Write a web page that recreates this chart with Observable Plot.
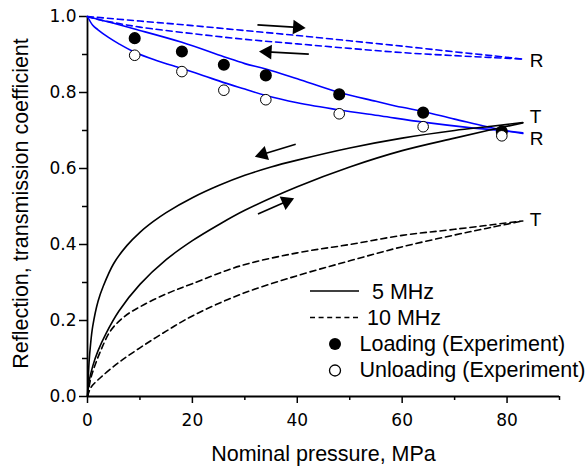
<!DOCTYPE html>
<html><head><meta charset="utf-8">
<script src="https://cdn.jsdelivr.net/npm/d3@7"></script>
<script src="https://cdn.jsdelivr.net/npm/@observablehq/plot@0.6"></script>
<style>
body{margin:0;background:#fff;}
#wrap{position:relative;width:588px;height:467px;}
</style></head><body><div id="wrap"></div>
<script>
// ---- Experimental points (5 MHz reflection) ----
const expPressure = [9, 18, 26, 34, 48, 64, 79];
const expLoading   = [0.943, 0.908, 0.873, 0.845, 0.795, 0.747, 0.697];
const expUnloading = [0.898, 0.855, 0.806, 0.781, 0.744, 0.710, 0.686];

// ---- Model curves ----
// Reflection, 10 MHz (dashed blue)
const r10Load_x   = [0, 10, 20, 30, 40, 50, 60, 70, 77, 83];
const r10Load_y   = [1.0, 0.988, 0.976, 0.963, 0.950, 0.936, 0.922, 0.907, 0.897, 0.888];
const r10Unload_x = [0, 2, 5, 10, 20, 30, 40, 50, 60, 70, 77, 83];
const r10Unload_y = [1.0, 0.992, 0.984, 0.972, 0.955, 0.940, 0.928, 0.916, 0.905, 0.897, 0.892, 0.888];
// Reflection, 5 MHz (solid blue)
const r5Load_x   = [0, 5, 9, 18, 26, 30, 34, 40, 48, 55, 60, 64, 70, 79, 83];
const r5Load_y   = [1.0, 0.982, 0.967, 0.932, 0.894, 0.876, 0.862, 0.836, 0.800, 0.777, 0.761, 0.750, 0.730, 0.701, 0.692];
const r5Unload_x = [0, 1, 2, 4, 6, 9, 13, 18, 22, 26, 30, 34, 40, 48, 56, 64, 72, 79, 83];
const r5Unload_y = [1.0, 0.977, 0.965, 0.945, 0.928, 0.906, 0.885, 0.863, 0.845, 0.826, 0.809, 0.792, 0.773, 0.754, 0.738, 0.722, 0.709, 0.700, 0.694];
// Transmission, 5 MHz (solid black)
const t5Unload_x = [0, 0.3, 0.6, 1, 2, 3, 5, 7.5, 10, 12.5, 15, 20, 25, 30, 35, 40, 50, 60, 70, 77, 83];
const t5Unload_y = [0, 0.09, 0.14, 0.185, 0.25, 0.29, 0.35, 0.397, 0.432, 0.46, 0.484, 0.523, 0.555, 0.582, 0.604, 0.622, 0.654, 0.680, 0.700, 0.711, 0.721];
const t5Load_x   = [0, 0.3, 1, 2, 3.5, 6, 10, 15, 20, 25, 30, 40, 50, 60, 70, 77, 83];
const t5Load_y   = [0, 0.04, 0.08, 0.12, 0.165, 0.225, 0.295, 0.36, 0.41, 0.452, 0.49, 0.552, 0.604, 0.647, 0.680, 0.702, 0.720];
// Transmission, 10 MHz (dashed black)
const t10Unload_x = [0, 0.5, 1, 2.5, 4.4, 7, 10, 15, 20, 29.2, 40, 50, 60, 70, 83];
const t10Unload_y = [0, 0.04, 0.065, 0.12, 0.173, 0.21, 0.236, 0.27, 0.297, 0.344, 0.378, 0.40, 0.424, 0.44, 0.462];
const t10Load_x   = [0, 0.5, 1, 2.5, 6, 10, 15, 20, 29.2, 40, 50, 59.7, 70, 77, 83];
const t10Load_y   = [0, 0.02, 0.03, 0.05, 0.09, 0.128, 0.172, 0.212, 0.269, 0.318, 0.357, 0.393, 0.425, 0.445, 0.462];

// ---- Annotations ----
const arrowX1 = [32.4, 42.2, 39.7, 32.5];
const arrowY1 = [0.978, 0.901, 0.664, 0.480];
const arrowX2 = [41.6, 32.7, 31.9, 39.4];
const arrowY2 = [0.970, 0.908, 0.631, 0.522];

const endLabels = ["R", "T", "R", "T"];
const endLabelCurves = ["r10Load", "t5Unload", "r5Load", "t10Load"];

const xTicks = [0, 20, 40, 60, 80];
const xMinorTicks = [10, 30, 50, 70, 90];
const yTicks = [0, 0.2, 0.4, 0.6, 0.8, 1.0];
const yMinorTicks = [0.1, 0.3, 0.5, 0.7, 0.9];

const legendItems = ["5 MHz", "10 MHz", "Loading (Experiment)", "Unloading (Experiment)"];

// ---- Build tables ----
const curveDefs = [
  {id:"r10Load",  xs:r10Load_x,  ys:r10Load_y,  color:"blue",  dashed:true},
  {id:"r10Unload",xs:r10Unload_x,ys:r10Unload_y,color:"blue",  dashed:true},
  {id:"r5Load",   xs:r5Load_x,   ys:r5Load_y,   color:"blue",  dashed:false},
  {id:"r5Unload", xs:r5Unload_x, ys:r5Unload_y, color:"blue",  dashed:false},
  {id:"t5Unload", xs:t5Unload_x, ys:t5Unload_y, color:"black", dashed:false},
  {id:"t5Load",   xs:t5Load_x,   ys:t5Load_y,   color:"black", dashed:false},
  {id:"t10Unload",xs:t10Unload_x,ys:t10Unload_y,color:"black", dashed:true},
  {id:"t10Load",  xs:t10Load_x,  ys:t10Load_y,  color:"black", dashed:true}
];
const rows = curveDefs.flatMap(c => c.xs.map((x,i) => ({id:c.id, x, y:c.ys[i], color:c.color, dashed:c.dashed})));
const exp = expPressure.map((x,i) => ({x, load:expLoading[i], unload:expUnloading[i]}));

const W = 588, H = 467, mL = 87, mR = 29, mT = 16, mB = 71;
const xDom = [0, 90], yDom = [0, 1];
const kx = (W - mL - mR) / (xDom[1]-xDom[0]);
const ky = (H - mT - mB) / (yDom[1]-yDom[0]);
const headR = 5.4;
const headTip = 2 * Math.sqrt(Math.PI*headR*headR/(3*Math.sqrt(3)));
const arrows = arrowX1.map((x1,i) => {
  const x2 = arrowX2[i], y1 = arrowY1[i], y2 = arrowY2[i];
  const px = (x2-x1)*kx, py = -(y2-y1)*ky;
  const len = Math.hypot(px,py), ux = px/len, uy = py/len;
  return {x1, y1, x2, y2,
    hx: x2 - ux*headTip/kx, hy: y2 + uy*headTip/ky,
    angle: Math.atan2(ux, -uy)*180/Math.PI};
});
const labelDy = {r10Load:2, t5Unload:-6, r5Load:5, t10Load:-1};
const labels = endLabels.map((t,i) => {
  const c = curveDefs.find(d => d.id === endLabelCurves[i]);
  return {text:t, x:c.xs[c.xs.length-1], y:c.ys[c.ys.length-1], id:c.id};
});

const font = "'Liberation Sans', Arial, Helvetica, sans-serif";
const tickFont = "'DejaVu Sans', Verdana, sans-serif";
const chart = Plot.plot({
  width: W, height: H, marginLeft: mL, marginRight: mR, marginTop: mT, marginBottom: mB,
  style: {fontFamily: font, fontSize: "18px", color: "#000", background: "#fff"},
  x: {domain: xDom},
  y: {domain: yDom},
  marks: [
    Plot.axisX({ticks: xTicks, tickSize: 7, tickPadding: 10, strokeWidth: 1.5, label: null, fontSize: 17, fontFamily: tickFont}),
    Plot.axisX({ticks: xMinorTicks, tickSize: 4, strokeWidth: 1.5, tickFormat: () => "", label: null}),
    Plot.axisY({ticks: yTicks, tickSize: 8, tickPadding: 3, strokeWidth: 1.5, tickFormat: d3.format(".1f"), label: null, fontSize: 17, fontFamily: tickFont}),
    Plot.axisY({ticks: yMinorTicks, tickSize: 5, strokeWidth: 1.5, tickFormat: () => "", label: null}),
    Plot.ruleY([0], {strokeWidth: 1.8}),
    Plot.ruleX([0], {strokeWidth: 1.8}),
    Plot.line(rows.filter(d => !d.dashed), {x:"x", y:"y", z:"id", stroke:"color", strokeWidth:1.6, curve:"catmull-rom"}),
    Plot.line(rows.filter(d => d.dashed), {x:"x", y:"y", z:"id", stroke:"color", strokeWidth:1.6, strokeDasharray:"6,4", curve:"catmull-rom"}),
    Plot.dot(exp, {x:"x", y:"load", r:5.3, fill:"black", stroke:"black"}),
    Plot.dot(exp, {x:"x", y:"unload", r:5.3, fill:"white", stroke:"black", strokeWidth:1}),
    Plot.link(arrows, {x1:"x1", y1:"y1", x2:"hx", y2:"hy", stroke:"black", strokeWidth:1.6}),
    Plot.dot(arrows, {x:"hx", y:"hy", symbol:"triangle", r:headR, fill:"black", rotate:"angle"}),
    Plot.text(labels, {x:"x", y:"y", text:"text", dx:7, textAnchor:"start", fontSize:19}),
    Plot.text(["Nominal pressure, MPa"], {frameAnchor:"bottom", textAnchor:"middle", lineAnchor:"middle", dy:57.5, fontSize:21.5}),
    Plot.text(["Reflection, transmission coefficient"], {frameAnchor:"left", textAnchor:"middle", lineAnchor:"middle", rotate:-90, dx:-66, dy:-3, fontSize:21.5})
  ]
});
document.getElementById("wrap").appendChild(chart);
const svg = d3.select(chart);

// per-label vertical offsets for the R/T end labels
svg.selectAll("g[aria-label='text'] text").each(function(){
  const t = d3.select(this);
  const txt = t.text();
  if (txt === "R" || txt === "T") {
    const match = labels.find(l => l.text === txt && !l.used);
    if (match) {
      match.used = true;
      const tr = t.attr("transform") || "";
      t.attr("transform", tr + ` translate(0,${labelDy[match.id]})`);
    }
  }
});

// ---- in-plot legend ----
const lg = svg.append("g").attr("font-family", font).attr("font-size", 21.5).attr("fill", "black").attr("text-anchor", "start");
const lx = 310, ly = 291, step = 26.5;
lg.append("line").attr("x1", lx).attr("x2", lx+49).attr("y1", ly).attr("y2", ly).attr("stroke","black").attr("stroke-width",1.5);
lg.append("text").attr("x", lx+62).attr("y", ly+7.5).text(legendItems[0]);
lg.append("line").attr("x1", lx).attr("x2", lx+48).attr("y1", ly+step).attr("y2", ly+step).attr("stroke","black").attr("stroke-width",1.3).attr("stroke-dasharray","5,3.6");
lg.append("text").attr("x", lx+57).attr("y", ly+step+7.5).text(legendItems[1]);
lg.append("circle").attr("cx", lx+25).attr("cy", ly+2*step).attr("r", 6).attr("fill","black");
lg.append("text").attr("x", lx+49.5).attr("y", ly+2*step+7).text(legendItems[2]);
lg.append("circle").attr("cx", lx+25).attr("cy", ly+3*step).attr("r", 5.5).attr("fill","white").attr("stroke","black").attr("stroke-width",1.3);
lg.append("text").attr("x", lx+49.5).attr("y", ly+3*step+6.5).text(legendItems[3]);
</script>
</body></html>
